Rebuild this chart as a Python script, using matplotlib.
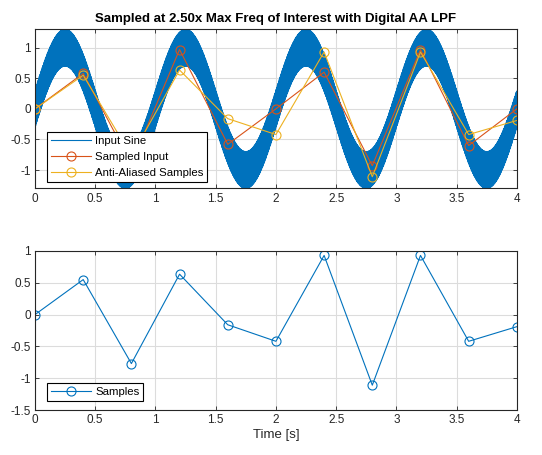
import numpy as np
import matplotlib
matplotlib.use("Agg")
import matplotlib.pyplot as plt

plt.rcParams['font.family'] = ['Liberation Sans', 'DejaVu Sans']

# input signal parameters
sine_freq = 1.0        # Hz
sine_amp = 1.0
hf_freq = 197.3        # high frequency content -> solid band
hf_amp = 0.3

# sample times and values
t_samp = [0, 0.4, 0.8, 1.2, 1.6, 2.0, 2.4, 2.8, 3.2, 3.6, 4.0]
sampled_input = [0, 0.58, -0.9, 0.97, -0.58, 0.0, 0.6, -0.93, 0.97, -0.6, 0.0]
aa_samples = [0, 0.55, -0.77, 0.635, -0.16, -0.42, 0.93, -1.11, 0.93, -0.42, -0.19]

blue = '#0072BD'
red = '#D95319'
yellow = '#EDB120'

t = np.linspace(0, 4, 120001)
x = sine_amp * np.sin(2 * np.pi * sine_freq * t) + hf_amp * np.sin(2 * np.pi * hf_freq * t)

fig = plt.figure(figsize=(5.42, 4.55), dpi=100)
ax1 = fig.add_axes([0.0646, 0.586, 0.889, 0.3495])
ax2 = fig.add_axes([0.0646, 0.0989, 0.889, 0.3495])


def style(ax):
    ax.grid(True, color='#dcdcdc', linewidth=0.8)
    ax.set_axisbelow(True)
    ax.tick_params(direction='in', top=True, right=True, labelsize=8.5,
                   length=3, width=0.6, colors='#262626', pad=3)
    for s in ax.spines.values():
        s.set_linewidth(0.8)
        s.set_color('#262626')
    ax.set_xlim(0, 4)
    ax.set_xticks(np.arange(0, 4.01, 0.5))
    ax.set_xticklabels(['0', '0.5', '1', '1.5', '2', '2.5', '3', '3.5', '4'])


ax1.plot(t, x, color=blue, linewidth=1.0, label='Input Sine')
ax1.plot(t_samp, sampled_input, color=red, linewidth=0.8, marker='o',
         markersize=6.5, markerfacecolor='none', markeredgewidth=0.8, label='Sampled Input')
ax1.plot(t_samp, aa_samples, color=yellow, linewidth=0.8, marker='o',
         markersize=6.5, markerfacecolor='none', markeredgewidth=0.8, label='Anti-Aliased Samples')
style(ax1)
ax1.set_ylim(-1.3, 1.3)
ax1.set_yticks([-1, -0.5, 0, 0.5, 1])
ax1.set_yticklabels(['-1', '-0.5', '0', '0.5', '1'])
ax1.set_title('Sampled at 2.50x Max Freq of Interest with Digital AA LPF',
              fontsize=9.5, fontweight='bold', pad=5)
leg1 = ax1.legend(loc='lower left', bbox_to_anchor=(0.0255, 0.038), borderaxespad=0,
                  fontsize=8.2, fancybox=False, edgecolor='black', framealpha=1,
                  handlelength=3.5, numpoints=1, labelspacing=0.55, borderpad=0.35,
                  handletextpad=0.35)
leg1.get_frame().set_linewidth(0.8)
leg1.get_lines()[0].set_linewidth(0.8)

ax2.plot(t_samp, aa_samples, color=blue, linewidth=0.8, marker='o',
         markersize=6.5, markerfacecolor='none', markeredgewidth=0.8, label='Samples')
style(ax2)
ax2.set_ylim(-1.5, 1)
ax2.set_yticks([-1.5, -1, -0.5, 0, 0.5, 1])
ax2.set_yticklabels(['-1.5', '-1', '-0.5', '0', '0.5', '1'])
ax2.set_xlabel('Time [s]', fontsize=9.5, color='#262626', labelpad=2)
leg2 = ax2.legend(loc='lower left', bbox_to_anchor=(0.0255, 0.057), borderaxespad=0,
                  fontsize=8.2, fancybox=False, edgecolor='black', framealpha=1,
                  handlelength=3.5, numpoints=1, borderpad=0.35, handletextpad=0.35)
leg2.get_frame().set_linewidth(0.8)

fig.savefig('out.png', dpi=100)
